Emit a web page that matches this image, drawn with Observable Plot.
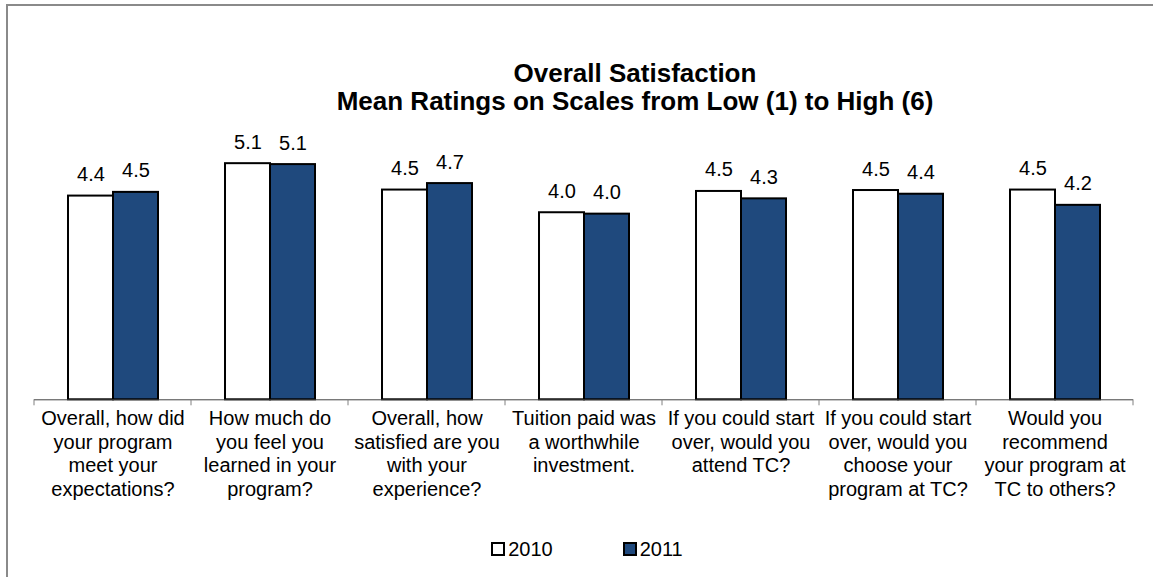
<!DOCTYPE html>
<html>
<head>
<meta charset="utf-8">
<script src="https://cdn.jsdelivr.net/npm/d3@7"></script>
<script src="https://cdn.jsdelivr.net/npm/@observablehq/plot@0.6"></script>
<style>
  html, body { margin: 0; padding: 0; background: #fff; }
  #chart {
    position: relative; width: 1153px; height: 577px; overflow: hidden;
    font-family: "Liberation Sans", Arial, sans-serif; color: #000;
  }
  #frame {
    position: absolute; left: 6px; top: 4px; width: 1200px; height: 600px;
    border-left: 2px solid #8a8a8a; border-top: 2px solid #8a8a8a; box-sizing: border-box;
  }
  #title {
    position: absolute; left: 117px; right: 0; top: 59px;
    text-align: center; font-weight: bold; font-size: 26px; line-height: 28px;
  }
  #plot { position: absolute; left: 0; top: 112px; }
  #legend {
    position: absolute; left: 21px; right: 0; top: 537px; height: 24px;
    display: flex; justify-content: center; align-items: center; font-size: 20px;
  }
  .item { display: flex; align-items: center; margin: 0 35px; }
  .sw { width: 10px; height: 10px; border: 2px solid #000; margin-right: 3px; }
</style>
</head>
<body>
<div id="chart">
  <div id="frame"></div>
  <div id="title"></div>
  <div id="plot"></div>
  <div id="legend"></div>
</div>
<script>
const titleLines = ["Overall Satisfaction", "Mean Ratings on Scales from Low (1) to High (6)"];
const categories = [
  "Overall, how did your program meet your expectations?",
  "How much do you feel you learned in your program?",
  "Overall, how satisfied are you with your experience?",
  "Tuition paid was a worthwhile investment.",
  "If you could start over, would you attend TC?",
  "If you could start over, would you choose your program at TC?",
  "Would you recommend your program at TC to others?"
];
const categoryLabels = [
  "Overall, how did\nyour program\nmeet your\nexpectations?",
  "How much do\nyou feel you\nlearned in your\nprogram?",
  "Overall, how\nsatisfied are you\nwith your\nexperience?",
  "Tuition paid was\na worthwhile\ninvestment.",
  "If you could start\nover, would you\nattend TC?",
  "If you could start\nover, would you\nchoose your\nprogram at TC?",
  "Would you\nrecommend\nyour program at\nTC to others?"
];
const years = ["2010", "2011"];
const values2010 = [4.40, 5.10, 4.53, 4.04, 4.50, 4.52, 4.53];
const values2011 = [4.48, 5.08, 4.67, 4.01, 4.34, 4.44, 4.20];
const yDomain = [0, 6];
const colors = {"2010": "#ffffff", "2011": "#1F497D"};

document.getElementById("title").innerHTML = titleLines.map(t => `<div>${t}</div>`).join("");

const rows = [];
categories.forEach((c, i) => {
  rows.push({cat: c, year: years[0], v: values2010[i]});
  rows.push({cat: c, year: years[1], v: values2011[i]});
});
const r2010 = rows.filter(d => d.year === years[0]);
const r2011 = rows.filter(d => d.year === years[1]);

const W = 1153, H = 400, mL = 34, mR = 20, mT = 9.5, mB = 112.7;
const bw = (W - mL - mR) / categories.length;
const gapOuter = bw * 0.2166;
const barW = bw * 0.2866;
const off = barW / 2;
const fmt = d3.format(".1f");
const labelOf = new Map(categories.map((c, i) => [c, categoryLabels[i]]));

function boundaryTicks(index, scales, values, dims) {
  const x = scales.x;
  const g = d3.create("svg:g").attr("stroke", "#808080").attr("stroke-width", 1);
  const y0 = dims.height - dims.marginBottom;
  let edges;
  if (x && typeof x.bandwidth === "function") {
    const b = x.bandwidth();
    edges = categories.map(c => x(c));
    edges.push(x(categories[categories.length - 1]) + b);
  } else {
    const b = (dims.width - dims.marginLeft - dims.marginRight) / categories.length;
    edges = d3.range(categories.length + 1).map(i => dims.marginLeft + i * b);
  }
  for (const e of edges) {
    g.append("line").attr("x1", e).attr("x2", e).attr("y1", y0).attr("y2", y0 + 6);
  }
  return g.node();
}

const chart = Plot.plot({
  width: W, height: H,
  marginLeft: mL, marginRight: mR, marginTop: mT, marginBottom: mB,
  x: {domain: categories, padding: 0, axis: null},
  y: {domain: yDomain, axis: null},
  style: {fontFamily: '"Liberation Sans", Arial, sans-serif', fontSize: "20px", color: "#000", background: "transparent", overflow: "visible"},
  marks: [
    Plot.barY(r2010, {x: "cat", y: "v", fill: colors["2010"], stroke: "#000", strokeWidth: 2,
      insetLeft: gapOuter, insetRight: bw - gapOuter - barW}),
    Plot.barY(r2011, {x: "cat", y: "v", fill: colors["2011"], stroke: "#000", strokeWidth: 2,
      insetLeft: gapOuter + barW, insetRight: bw - gapOuter - 2 * barW}),
    Plot.ruleY([0], {stroke: "#404040", strokeWidth: 1}),
    boundaryTicks,
    Plot.text(r2010, {x: "cat", y: "v", text: d => fmt(d.v), dx: -(bw / 2 - gapOuter - off), dy: -15, lineAnchor: "bottom", fontSize: 20, fill: "#000"}),
    Plot.text(r2011, {x: "cat", y: "v", text: d => fmt(d.v), dx: (gapOuter + barW + off) - bw / 2, dy: -15, lineAnchor: "bottom", fontSize: 20, fill: "#000"}),
    Plot.text(categories, {x: d => d, text: d => labelOf.get(d), frameAnchor: "bottom", lineAnchor: "top", dy: 9, lineHeight: 1.175, fontSize: 20, fill: "#000"})
  ]
});
document.getElementById("plot").appendChild(chart);

document.getElementById("legend").innerHTML = years.map(y =>
  `<div class="item"><div class="sw" style="background:${colors[y]}"></div><span>${y}</span></div>`).join("");
</script>
</body>
</html>
